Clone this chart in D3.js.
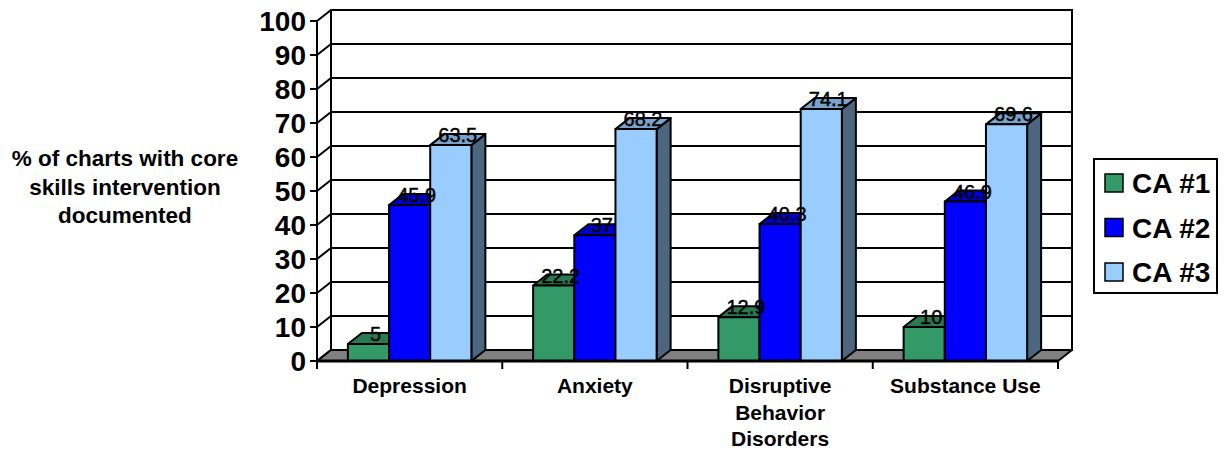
<!DOCTYPE html>
<html>
<head>
<meta charset="utf-8">
<script src="https://cdn.jsdelivr.net/npm/d3@7"></script>
<style>
  html, body { margin: 0; padding: 0; background: #fff; }
  svg { display: block; }
  text { font-family: "Liberation Sans", Arial, Helvetica, sans-serif; fill: #000; }
</style>
</head>
<body>
<svg id="chart" width="1227" height="452"></svg>
<script>
// Chart data
const categories = ["Depression", "Anxiety", "Disruptive Behavior Disorders", "Substance Use"];
const categoryLines = [["Depression"], ["Anxiety"], ["Disruptive", "Behavior", "Disorders"], ["Substance Use"]];
const seriesNames = ["CA #1", "CA #2", "CA #3"];
const ca1 = [5, 22.2, 12.9, 10];
const ca2 = [45.9, 37, 40.3, 46.9];
const ca3 = [63.5, 68.2, 74.1, 69.6];
const yTicks = [0, 10, 20, 30, 40, 50, 60, 70, 80, 90, 100];
const yTitle = ["% of charts with core", "skills intervention", "documented"];

const seriesValues = [ca1, ca2, ca3];
const colors = ["#339966", "#0000FF", "#99CCFF"];

const svg = d3.select("#chart");

// Plot geometry (front plane + oblique depth offset)
const left = 317, right = 1058, floorY = 361, topY = 21;
const dx = 14, dy = 11;

const y = d3.scaleLinear().domain([0, 100]).range([floorY, topY]);
const x0 = d3.scaleBand().domain(categories).range([left, right]).padding(0);
const bw = x0.bandwidth();
const x1 = d3.scaleBand().domain(seriesNames).range([bw / 6, bw * 5 / 6]).padding(0);

const shade = (c, k) => { const r = d3.rgb(c); return d3.rgb(r.r * k, r.g * k, r.b * k).formatHex(); };

// Back wall
const wall = svg.append("g");
wall.append("rect")
  .attr("x", left + dx).attr("y", y(100) - dy)
  .attr("width", right - left).attr("height", y(0) - y(100))
  .attr("fill", "#fff").attr("stroke", "#000").attr("stroke-width", 2);

// Gridlines on back wall and left side wall
yTicks.forEach(v => {
  wall.append("line")
    .attr("x1", left + dx).attr("x2", right + dx)
    .attr("y1", y(v) - dy).attr("y2", y(v) - dy)
    .attr("stroke", "#000").attr("stroke-width", 2);
  wall.append("line")
    .attr("x1", left).attr("x2", left + dx)
    .attr("y1", y(v)).attr("y2", y(v) - dy)
    .attr("stroke", "#000").attr("stroke-width", 2);
});

// Floor
wall.append("polygon")
  .attr("points", [[left, y(0)], [right, y(0)], [right + dx, y(0) - dy], [left + dx, y(0) - dy]].map(p => p.join(",")).join(" "))
  .attr("fill", "#808080").attr("stroke", "#000").attr("stroke-width", 2).attr("stroke-linejoin", "round");

// Front vertical axis line
wall.append("line")
  .attr("x1", left).attr("x2", left).attr("y1", y(100)).attr("y2", y(0))
  .attr("stroke", "#000").attr("stroke-width", 2);

// Bars
const bars = svg.append("g");
categories.forEach((cat, ci) => {
  seriesNames.forEach((s, si) => {
    const v = seriesValues[si][ci];
    const xa = x0(cat) + x1(s), xb = xa + x1.bandwidth();
    const yt = y(v), yb = y(0);
    const g = bars.append("g").attr("stroke", "#000").attr("stroke-width", 2).attr("stroke-linejoin", "round");
    // right side face
    g.append("polygon")
      .attr("points", [[xb, yb], [xb + dx, yb - dy], [xb + dx, yt - dy], [xb, yt]].map(p => p.join(",")).join(" "))
      .attr("fill", shade(colors[si], 0.5));
    // top face
    g.append("polygon")
      .attr("points", [[xa, yt], [xb, yt], [xb + dx, yt - dy], [xa + dx, yt - dy]].map(p => p.join(",")).join(" "))
      .attr("fill", shade(colors[si], 0.8));
    // front face
    g.append("rect")
      .attr("x", xa).attr("y", yt).attr("width", xb - xa).attr("height", yb - yt)
      .attr("fill", colors[si]);
  });
});

// Value labels
const labels = svg.append("g");
categories.forEach((cat, ci) => {
  seriesNames.forEach((s, si) => {
    const v = seriesValues[si][ci];
    labels.append("text")
      .attr("x", x0(cat) + x1(s) + x1.bandwidth() / 2 + dx / 2)
      .attr("y", y(v) - 3)
      .attr("text-anchor", "middle")
      .attr("font-size", 20)
      .attr("stroke", "#000").attr("stroke-width", 0.4)
      .text(v);
  });
});

// Bottom axis line and category ticks
const axis = svg.append("g");
axis.append("line")
  .attr("x1", left).attr("x2", right).attr("y1", y(0)).attr("y2", y(0))
  .attr("stroke", "#000").attr("stroke-width", 3);
[...categories.map(c => x0(c)), right].forEach(px => {
  axis.append("line").attr("x1", px).attr("x2", px).attr("y1", y(0)).attr("y2", y(0) + 8)
    .attr("stroke", "#000").attr("stroke-width", 2);
});

// Y ticks and labels
yTicks.forEach(v => {
  axis.append("line").attr("x1", left - 7).attr("x2", left).attr("y1", y(v)).attr("y2", y(v))
    .attr("stroke", "#000").attr("stroke-width", 2);
  axis.append("text")
    .attr("x", left - 11).attr("y", y(v)).attr("dy", "0.36em")
    .attr("text-anchor", "end").attr("font-size", 28).attr("font-weight", "bold")
    .text(v);
});

// Category labels
categories.forEach((cat, ci) => {
  const t = axis.append("text")
    .attr("x", x0(cat) + bw / 2).attr("y", 393)
    .attr("text-anchor", "middle").attr("font-size", 21).attr("font-weight", "bold");
  categoryLines[ci].forEach((ln, li) => {
    t.append("tspan").attr("x", x0(cat) + bw / 2).attr("dy", li === 0 ? 0 : 26.5).text(ln);
  });
});

// Y axis title
const yt = svg.append("text")
  .attr("x", 125).attr("y", 166)
  .attr("text-anchor", "middle").attr("font-size", 22.5).attr("font-weight", "bold");
yTitle.forEach((ln, li) => {
  yt.append("tspan").attr("x", 125).attr("dy", li === 0 ? 0 : 28.5).text(ln);
});

// Legend
const legend = svg.append("g");
legend.append("rect")
  .attr("x", 1094).attr("y", 159).attr("width", 123).attr("height", 134)
  .attr("fill", "#fff").attr("stroke", "#000").attr("stroke-width", 2);
seriesNames.forEach((s, i) => {
  const cy = 183 + i * 44.5;
  legend.append("rect")
    .attr("x", 1105).attr("y", cy - 9).attr("width", 18).attr("height", 18)
    .attr("fill", colors[i]).attr("stroke", "#000").attr("stroke-width", 1.5);
  legend.append("text")
    .attr("x", 1132).attr("y", cy).attr("dy", "0.36em")
    .attr("font-size", 28).attr("font-weight", "bold")
    .text(s);
});
</script>
</body>
</html>
